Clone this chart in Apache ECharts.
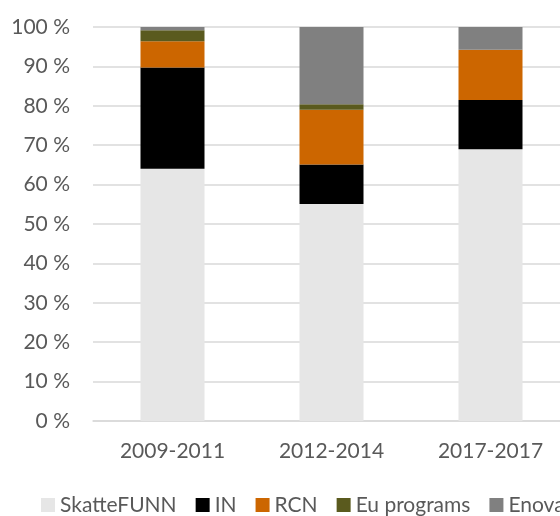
<!DOCTYPE html>
<html>
<head>
<meta charset="utf-8">
<script src="https://cdn.jsdelivr.net/npm/echarts@6/dist/echarts.min.js"></script>
<style>
	html, body { margin: 0; padding: 0; background: #fff; }
	#main { width: 560px; height: 516px; }
</style>
</head>
<body>
<div id="main"></div>
<script>
	var periods = ['2009-2011', '2012-2014', '2017-2017'];
	var skattefunn = [64.0, 55.1, 69.0];
	var inn = [25.7, 10.0, 12.5];
	var rcn = [6.7, 13.9, 12.7];
	var euPrograms = [2.8, 1.4, 0];
	var enova = [0.8, 19.6, 5.8];
	var yTicks = [0, 10, 20, 30, 40, 50, 60, 70, 80, 90, 100];

	var textColor = '#595959';
	var font = 'Lato';

	var chart = echarts.init(document.getElementById('main'));

	var makeSeries = function(name, data, color){
		return {
			name: name,
			type: 'bar',
			stack: 'total',
			barWidth: 64,
			data: data,
			itemStyle: { color: color },
			emphasis: { disabled: true }
		};
	};

	var option = {
		animation: false,
		textStyle: { fontFamily: font },
		grid: {
			left: 93,
			top: 27,
			width: 477,
			height: 394,
			outerBoundsMode: 'none',
			containLabel: false
		},
		legend: {
			left: 41,
			top: 494,
			width: 900,
			itemWidth: 14,
			itemHeight: 14,
			itemGap: 19,
			padding: 0,
			icon: 'rect',
			textStyle: { color: textColor, fontSize: 21, lineHeight: 22, fontFamily: font },
			data: ['SkatteFUNN', 'IN', 'RCN', 'Eu programs', 'Enova']
		},
		xAxis: {
			type: 'category',
			data: periods,
			axisLine: { lineStyle: { color: '#d9d9d9', width: 1.5 } },
			axisTick: { show: false },
			axisLabel: { color: textColor, fontSize: 21, margin: 20, fontFamily: font }
		},
		yAxis: {
			type: 'value',
			min: yTicks[0],
			max: yTicks[yTicks.length - 1],
			interval: 10,
			axisLine: { show: false },
			axisTick: { show: false },
			splitLine: { lineStyle: { color: '#d9d9d9', width: 1.5 } },
			axisLabel: {
				color: textColor,
				fontSize: 21,
				margin: 23,
				fontFamily: font,
				formatter: function(v){ return v + ' %'; }
			}
		},
		series: [
			makeSeries('SkatteFUNN', skattefunn, '#e6e6e6'),
			makeSeries('IN', inn, '#000000'),
			makeSeries('RCN', rcn, '#cc6600'),
			makeSeries('Eu programs', euPrograms, '#5a5a1e'),
			makeSeries('Enova', enova, '#808080')
		]
	};
	chart.setOption(option, true);
</script>
</body>
</html>
